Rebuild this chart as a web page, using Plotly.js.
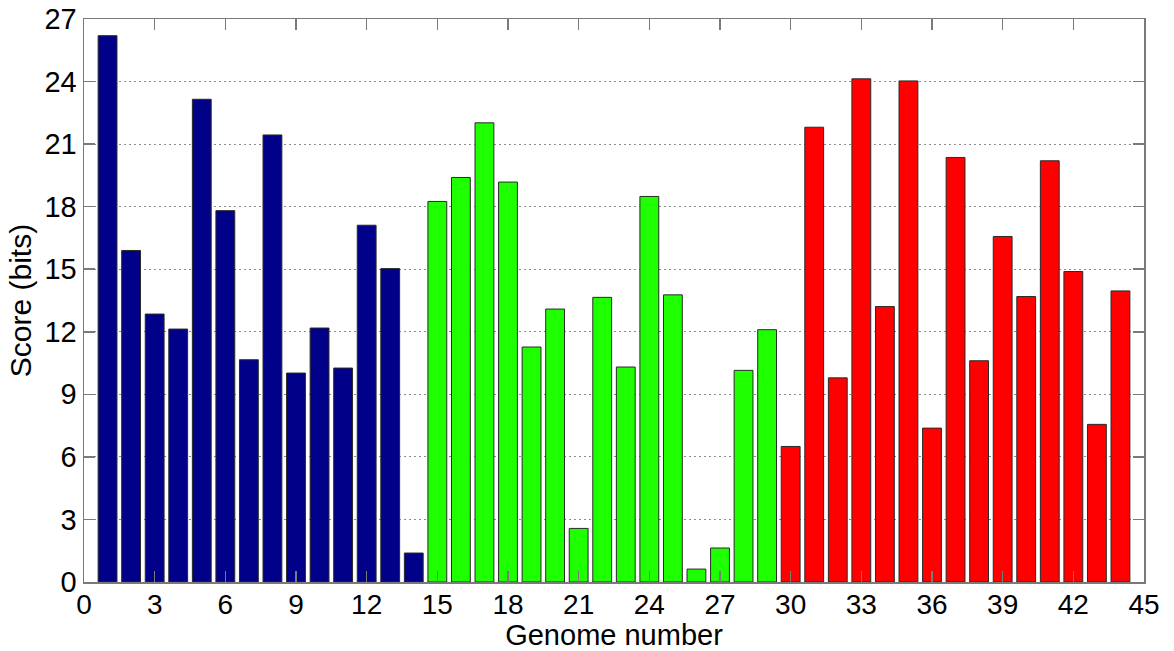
<!DOCTYPE html>
<html>
<head>
<meta charset="utf-8">
<script src="https://cdn.plot.ly/plotly-3.0.1.min.js"></script>
<style>
  html, body { margin: 0; padding: 0; background: #fff; }
  #chart { width: 1174px; height: 651px; }
</style>
</head>
<body>
<div id="chart"></div>
<script>
// Genome scores in bits, split into three groups of genomes
const groupAGenomes = [1, 2, 3, 4, 5, 6, 7, 8, 9, 10, 11, 12, 13, 14];
const groupAScores  = [26.2, 15.9, 12.85, 12.13, 23.15, 17.81, 10.66, 21.44, 10.02, 12.18, 10.26, 17.11, 15.03, 1.39];

const groupBGenomes = [15, 16, 17, 18, 19, 20, 21, 22, 23, 24, 25, 26, 27, 28, 29];
const groupBScores  = [18.25, 19.4, 22.02, 19.18, 11.27, 13.09, 2.57, 13.65, 10.31, 18.49, 13.77, 0.62, 1.63, 10.15, 12.1];

const groupCGenomes = [30, 31, 32, 33, 34, 35, 36, 37, 38, 39, 40, 41, 42, 43, 44];
const groupCScores  = [6.5, 21.81, 9.79, 24.13, 13.21, 24.03, 7.38, 20.36, 10.61, 16.57, 13.69, 20.2, 14.89, 7.56, 13.96];

const groupColors = ['#000088', '#1eff00', '#ff0000'];

const xTickValues = [0, 3, 6, 9, 12, 15, 18, 21, 24, 27, 30, 33, 36, 39, 42, 45];
const yTickValues = [0, 3, 6, 9, 12, 15, 18, 21, 24, 27];

const groups = [
  [groupAGenomes, groupAScores],
  [groupBGenomes, groupBScores],
  [groupCGenomes, groupCScores]
];

const traces = groups.map(([x, y], i) => ({
  type: 'bar',
  x: x,
  y: y,
  width: 0.8,
  marker: { color: groupColors[i], line: { color: '#2a2a2a', width: 1 } },
  hoverinfo: 'x+y',
  showlegend: false
}));

const font = 'Liberation Sans, Arial, Helvetica, sans-serif';
const frameColor = '#7a7a7a';

const layout = {
  width: 1174,
  height: 651,
  margin: { l: 84, r: 30, t: 19, b: 69 },
  paper_bgcolor: '#ffffff',
  plot_bgcolor: '#ffffff',
  barmode: 'overlay',
  font: { family: font, color: '#000000', size: 28 },
  xaxis: {
    range: [0, 45],
    tickmode: 'array',
    tickvals: xTickValues,
    ticks: 'inside',
    ticklen: 11,
    tickwidth: 1.5,
    tickcolor: frameColor,
    showline: true,
    linecolor: frameColor,
    linewidth: 1.5,
    mirror: 'ticks',
    showgrid: false,
    zeroline: false,
    ticklabelstandoff: -3,
    tickfont: { size: 28 },
    title: { text: 'Genome number', font: { size: 29 }, standoff: 4 }
  },
  yaxis: {
    range: [0, 27],
    tickmode: 'array',
    tickvals: yTickValues,
    ticks: 'inside',
    ticklen: 11,
    tickwidth: 1.5,
    tickcolor: frameColor,
    showline: true,
    linecolor: frameColor,
    linewidth: 1.5,
    mirror: 'ticks',
    showgrid: true,
    gridcolor: '#8c8c8c',
    gridwidth: 1,
    griddash: '1.5px,3.5px',
    zeroline: false,
    tickfont: { size: 29 },
    title: { text: 'Score (bits)', font: { size: 30 }, standoff: 4 }
  }
};

Plotly.newPlot('chart', traces, layout, { displayModeBar: false, staticPlot: true });
</script>
</body>
</html>
